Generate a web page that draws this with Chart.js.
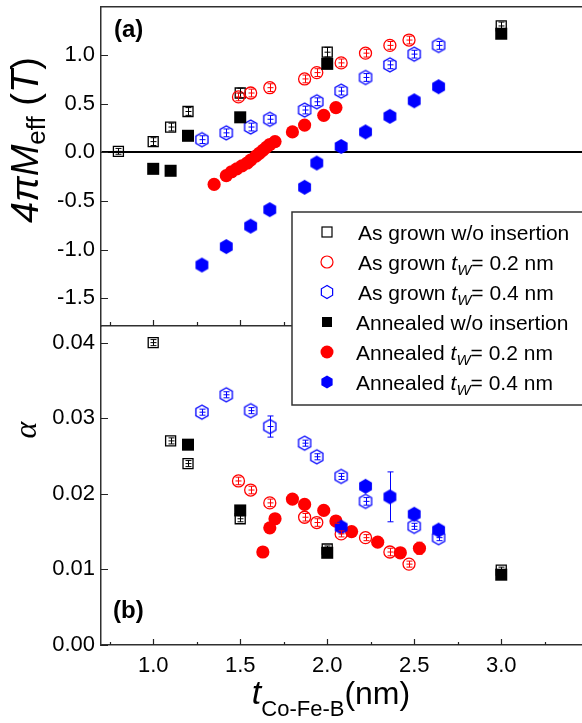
<!DOCTYPE html>
<html>
<head>
<meta charset="utf-8">
<script src="https://cdn.jsdelivr.net/npm/chart.js@4.4.0/dist/chart.umd.min.js"></script>
<style>
  body { margin: 0; background: #fff; }
  .wrap { position: relative; width: 582px; height: 723px; overflow: hidden; background: #fff; }
  canvas { position: absolute; left: 0; top: 0; }
</style>
</head>
<body>
<div class="wrap">
  <canvas id="chartTop" width="582" height="723"></canvas>
  <canvas id="chartBottom" width="582" height="723"></canvas>
</div>
<script>
// ---- ticks ----
const xTicks = [0.75, 1.0, 1.25, 1.5, 1.75, 2.0, 2.25, 2.5, 2.75, 3.0, 3.25];
const yTicksTop = [-1.5, -1.0, -0.5, 0.0, 0.5, 1.0];
const yTicksBottom = [0.0, 0.01, 0.02, 0.03, 0.04];

// ---- (a) 4piMeff (T) ----
const xAsW0 = [0.8, 1.0, 1.1, 1.2, 1.5, 2.0, 3.0];
const mAsW0 = [0.01, 0.11, 0.26, 0.42, 0.61, 1.03, 1.30];
const mAsW0Err = [0.03, 0.04, 0.04, 0.04, 0.05, 0.05, 0.04];

const xAnnW0 = [1.0, 1.1, 1.2, 1.5, 2.0, 3.0];
const mAnnW0 = [-0.17, -0.19, 0.17, 0.36, 0.91, 1.22];

const xAsW2 = [1.49, 1.56, 1.67, 1.87, 1.94, 2.08, 2.22, 2.36, 2.47];
const mAsW2 = [0.57, 0.61, 0.665, 0.755, 0.82, 0.92, 1.02, 1.10, 1.155];
const mAsW2Err = [0.04, 0.04, 0.04, 0.04, 0.04, 0.04, 0.04, 0.04, 0.04];

const xW4 = [1.28, 1.42, 1.56, 1.67, 1.87, 1.94, 2.08, 2.22, 2.36, 2.50, 2.64];
const mAsW4 = [0.13, 0.20, 0.26, 0.34, 0.435, 0.52, 0.63, 0.77, 0.90, 1.01, 1.10];
const mAsW4Err = [0.04, 0.04, 0.04, 0.04, 0.04, 0.04, 0.04, 0.04, 0.04, 0.04, 0.04];
const mAnnW4 = [-1.16, -0.97, -0.76, -0.59, -0.36, -0.11, 0.06, 0.21, 0.37, 0.53, 0.675];

const xAnnW2 = [1.35, 1.42, 1.45, 1.48, 1.51, 1.54, 1.56, 1.59, 1.61, 1.63, 1.65, 1.67, 1.70, 1.80, 1.87, 1.98, 2.05];
const mAnnW2 = [-0.33, -0.24, -0.20, -0.17, -0.14, -0.11, -0.08, -0.04, -0.01, 0.02, 0.05, 0.08, 0.11, 0.21, 0.28, 0.38, 0.46];

// ---- (b) alpha ----
const xaAsW0 = [1.0, 1.1, 1.2, 1.5, 2.0, 3.0];
const aAsW0 = [0.0400, 0.0270, 0.0240, 0.0167, 0.0127, 0.0099];
const aAsW0Err = [0.0004, 0.0004, 0.0004, 0.0004, 0.0004, 0.0004];

const xaAnnW0 = [1.2, 1.5, 2.0, 3.0];
const aAnnW0 = [0.0265, 0.0178, 0.0122, 0.0093];

const xaAsW2 = [1.49, 1.56, 1.67, 1.87, 1.94, 2.08, 2.22, 2.36, 2.47];
const aAsW2 = [0.0217, 0.0205, 0.0188, 0.0169, 0.0162, 0.0147, 0.0142, 0.0123, 0.0107];
const aAsW2Err = [0.0005, 0.0005, 0.0005, 0.0005, 0.0005, 0.0004, 0.0004, 0.0005, 0.0004];

const xaAnnW2 = [1.63, 1.67, 1.70, 1.80, 1.87, 1.98, 2.05, 2.14, 2.29, 2.42, 2.53];
const aAnnW2 = [0.0123, 0.0155, 0.0167, 0.0193, 0.0186, 0.0178, 0.0164, 0.0150, 0.0136, 0.0122, 0.0128];
const aAnnW2Err = [0.0003, 0.0003, 0.0003, 0.0003, 0.0003, 0.0003, 0.0003, 0.0003, 0.0003, 0.0003, 0.0008];

const xaAsW4 = [1.28, 1.42, 1.56, 1.67, 1.87, 1.94, 2.08, 2.22, 2.50, 2.64];
const aAsW4 = [0.0308, 0.0331, 0.0310, 0.0289, 0.0267, 0.0249, 0.0223, 0.0190, 0.0157, 0.0142];
const aAsW4Err = [0.0004, 0.0004, 0.0004, 0.0014, 0.0004, 0.0004, 0.0004, 0.0005, 0.0004, 0.0004];

const xaAnnW4 = [2.08, 2.22, 2.36, 2.50, 2.64];
const aAnnW4 = [0.0156, 0.0210, 0.0196, 0.0173, 0.0152];
const aAnnW4Err = [0.0003, 0.0003, 0.0033, 0.0003, 0.0003];

const legendLabels = [
  ['As grown w/o insertion'],
  ['As grown ', 't', 'W', '= 0.2 nm'],
  ['As grown ', 't', 'W', '= 0.4 nm'],
  ['Annealed w/o insertion'],
  ['Annealed ', 't', 'W', '= 0.2 nm'],
  ['Annealed ', 't', 'W', '= 0.4 nm'],
];

const FONT = "'Liberation Sans', Arial, sans-serif";
const RED = '#ff0000', BLUE = '#0000ff', BLACK = '#000000';
const X_MIN = 0.70, X_MAX = 3.464;

function hexPath(ctx, cx, cy, r) {
  ctx.beginPath();
  for (let k = 0; k < 6; k++) {
    const a = Math.PI / 2 + k * Math.PI / 3;
    const px = cx + r * Math.cos(a), py = cy - r * Math.sin(a);
    if (k) ctx.lineTo(px, py); else ctx.moveTo(px, py);
  }
  ctx.closePath();
}
function hexImage(r, filled, color) {
  const c = document.createElement('canvas');
  const s = Math.ceil(2 * r + 4);
  c.width = s; c.height = s;
  const g = c.getContext('2d');
  hexPath(g, s / 2, s / 2, r);
  if (filled) { g.fillStyle = color; g.fill(); }
  else { g.strokeStyle = color; g.lineWidth = 1.3; g.stroke(); }
  return c;
}
const hexOpen = hexImage(7, false, BLUE);
const hexFilled = hexImage(7.4, true, BLUE);

const pts = (xs, ys) => xs.map((x, i) => ({ x: x, y: ys[i] }));

function ds(label, xs, ys, errs, style, radius, color, filled, order) {
  return {
    label: label,
    data: pts(xs, ys),
    errors: errs,
    pointStyle: style,
    pointRadius: radius,
    pointBorderColor: color,
    pointBackgroundColor: filled ? color : 'rgba(0,0,0,0)',
    pointBorderWidth: filled ? 0 : 1.3,
    borderColor: color,
    showLine: false,
    order: order,
  };
}

// inward ticks, drawn from the scales
function drawInwardTicks(chart, yTicks, majorLen, minorLen) {
  const ctx = chart.ctx, xs = chart.scales.x, ys = chart.scales.y;
  const area = chart.chartArea;
  ctx.save();
  ctx.strokeStyle = '#222';
  ctx.lineWidth = 1.2;
  ctx.beginPath();
  yTicks.forEach(v => {
    const py = Math.round(ys.getPixelForValue(v)) + 0.5;
    ctx.moveTo(area.left, py); ctx.lineTo(area.left + 7, py);
  });
  xTicks.forEach(v => {
    const px = Math.round(xs.getPixelForValue(v)) + 0.5;
    const major = Math.abs(v * 2 - Math.round(v * 2)) < 1e-6;
    ctx.moveTo(px, area.bottom); ctx.lineTo(px, area.bottom - (major ? majorLen : minorLen));
  });
  ctx.stroke();
  ctx.restore();
}

const errorBars = {
  id: 'errorBars',
  afterDatasetsDraw(chart) {
    const ctx = chart.ctx, xs = chart.scales.x, ys = chart.scales.y;
    const area = chart.chartArea;
    ctx.save();
    ctx.beginPath();
    ctx.rect(area.left, area.top, area.right - area.left, area.bottom - area.top);
    ctx.clip();
    ctx.lineWidth = 1;
    chart.data.datasets.forEach(d => {
      if (!d.errors) return;
      ctx.strokeStyle = d.borderColor;
      ctx.beginPath();
      d.data.forEach((p, i) => {
        const e = d.errors[i] || 0;
        const px = Math.round(xs.getPixelForValue(p.x)) + 0.5;
        const y0 = ys.getPixelForValue(p.y);
        const y1 = ys.getPixelForValue(p.y - e), y2 = ys.getPixelForValue(p.y + e);
        ctx.moveTo(px, y1); ctx.lineTo(px, y2);
        ctx.moveTo(px - 3, y1); ctx.lineTo(px + 3, y1);
        ctx.moveTo(px - 3, y2); ctx.lineTo(px + 3, y2);
        ctx.moveTo(px - 3, y0); ctx.lineTo(px + 3, y0);
      });
      ctx.stroke();
    });
    ctx.restore();
  }
};

function richWidth(ctx, parts) {
  let w = 0;
  parts.forEach(p => { ctx.font = p.font; w += ctx.measureText(p.t).width; });
  return w;
}
function drawRich(ctx, parts, x, y) {
  parts.forEach(p => {
    ctx.font = p.font;
    ctx.fillText(p.t, x, y + (p.dy || 0));
    x += ctx.measureText(p.t).width;
  });
}

const topDecor = {
  id: 'topDecor',
  afterDraw(chart) {
    const ctx = chart.ctx;
    drawInwardTicks(chart, yTicksTop, 6, 4);
    ctx.save();
    ctx.fillStyle = '#000';
    ctx.textBaseline = 'alphabetic';
    ctx.font = 'bold 24px ' + FONT;
    ctx.fillText('(a)', 114, 37);
    // y title
    const parts = [
      { t: '4\u03c0M', font: 'italic 38px ' + FONT },
      { t: 'eff', font: '26px ' + FONT, dy: 7 },
      { t: ' (', font: '38px ' + FONT },
      { t: 'T', font: 'italic 38px ' + FONT },
      { t: ')', font: '38px ' + FONT },
    ];
    const w = richWidth(ctx, parts);
    ctx.translate(38, 140 + w / 2);
    ctx.rotate(-Math.PI / 2);
    drawRich(ctx, parts, 0, 0);
    ctx.restore();
  }
};

function legendMarker(ctx, i, cx, cy) {
  ctx.save();
  ctx.lineWidth = 1.2;
  if (i === 0) { ctx.strokeStyle = BLACK; ctx.strokeRect(cx - 5, cy - 5, 10, 10); }
  if (i === 1) { ctx.strokeStyle = RED; ctx.beginPath(); ctx.arc(cx, cy, 6, 0, Math.PI * 2); ctx.stroke(); }
  if (i === 2) { ctx.strokeStyle = BLUE; hexPath(ctx, cx, cy, 6.5); ctx.stroke(); }
  if (i === 3) { ctx.fillStyle = BLACK; ctx.fillRect(cx - 5, cy - 5, 10, 10); }
  if (i === 4) { ctx.fillStyle = RED; ctx.beginPath(); ctx.arc(cx, cy, 6.5, 0, Math.PI * 2); ctx.fill(); }
  if (i === 5) { ctx.fillStyle = BLUE; hexPath(ctx, cx, cy, 6.5); ctx.fill(); }
  ctx.restore();
}

const bottomDecor = {
  id: 'bottomDecor',
  afterDraw(chart) {
    const ctx = chart.ctx;
    drawInwardTicks(chart, yTicksBottom, 6, 3);
    ctx.save();
    ctx.fillStyle = '#000';
    ctx.textBaseline = 'alphabetic';
    ctx.font = 'bold 24px ' + FONT;
    ctx.fillText('(b)', 113, 618);

    // alpha title
    ctx.save();
    ctx.font = "italic 32px 'Liberation Serif', 'DejaVu Serif', serif";
    const aw = ctx.measureText('\u03b1').width;
    ctx.translate(36, 430 + aw / 2);
    ctx.rotate(-Math.PI / 2);
    ctx.fillText('\u03b1', 0, 0);
    ctx.restore();

    // x title
    const xparts = [
      { t: 't', font: 'italic 34px ' + FONT },
      { t: 'Co-Fe-B', font: '22px ' + FONT, dy: 12 },
      { t: '(nm)', font: '32px ' + FONT },
    ];
    const xw = richWidth(ctx, xparts);
    drawRich(ctx, xparts, 331 - xw / 2, 704);

    // legend
    ctx.fillStyle = '#fff';
    ctx.fillRect(292, 212, 300, 193);
    ctx.strokeStyle = '#333';
    ctx.lineWidth = 1.5;
    ctx.strokeRect(292, 212, 300, 193);
    legendLabels.forEach((lab, i) => {
      const cy = 232 + i * 30;
      legendMarker(ctx, i, 327, cy);
      ctx.fillStyle = '#000';
      let parts;
      if (lab.length === 1) parts = [{ t: lab[0], font: '21px ' + FONT }];
      else parts = [
        { t: lab[0], font: '21px ' + FONT },
        { t: lab[1], font: 'italic 21px ' + FONT },
        { t: lab[2], font: 'italic 15px ' + FONT, dy: 5 },
        { t: lab[3], font: '21px ' + FONT },
      ];
      drawRich(ctx, parts, i < 3 ? 358 : 356, cy + 8);
    });
    ctx.restore();
  }
};

const setXTicks = s => { s.ticks = xTicks.map(v => ({ value: v })); };
const xLabel = v => (Math.abs(v * 2 - Math.round(v * 2)) < 1e-6 ? v.toFixed(1) : '');
const borderOpt = { display: true, color: '#303030', width: 1.5 };
const fitX = h => s => { s.height = h; s.paddingLeft = 0; s.paddingRight = 0; };
const fitY = s => { s.width = 101; s.paddingTop = 0; s.paddingBottom = 0; };

// ---- top chart ----
new Chart(document.getElementById('chartTop'), {
  type: 'scatter',
  data: {
    datasets: [
      ds('As grown w/o insertion', xAsW0, mAsW0, mAsW0Err, 'rect', 7.07, BLACK, false, 6),
      ds('As grown tW = 0.2 nm', xAsW2, mAsW2, mAsW2Err, 'circle', 6, RED, false, 5),
      ds('As grown tW = 0.4 nm', xW4, mAsW4, mAsW4Err, hexOpen, 7, BLUE, false, 4),
      ds('Annealed w/o insertion', xAnnW0, mAnnW0, null, 'rect', 8.5, BLACK, true, 3),
      ds('Annealed tW = 0.2 nm', xAnnW2, mAnnW2, null, 'circle', 6.6, RED, true, 2),
      ds('Annealed tW = 0.4 nm', xW4, mAnnW4, null, hexFilled, 7.4, BLUE, true, 1),
    ]
  },
  options: {
    responsive: false,
    animation: false,
    events: [],
    layout: { padding: 0, autoPadding: false },
    plugins: { legend: { display: false }, tooltip: { enabled: false } },
    scales: {
      x: {
        type: 'linear', position: 'bottom', min: X_MIN, max: X_MAX,
        afterBuildTicks: setXTicks,
        afterFit: fitX(723 - 326),
        ticks: { display: false },
        grid: { display: false },
        border: borderOpt,
      },
      xTop: {
        type: 'linear', position: 'top', min: X_MIN, max: X_MAX,
        afterFit: fitX(7),
        ticks: { display: false },
        grid: { display: false },
        border: borderOpt,
      },
      y: {
        type: 'linear', min: -1.787, max: 1.495,
        afterBuildTicks: s => { s.ticks = yTicksTop.map(v => ({ value: v })); },
        afterFit: fitY,
        ticks: {
          padding: 6, color: '#000', font: { family: FONT, size: 22 },
          callback: v => v.toFixed(1),
        },
        grid: {
          drawTicks: false,
          color: c => (c.tick && Math.abs(c.tick.value) < 1e-9 ? '#000' : 'rgba(0,0,0,0)'),
          lineWidth: c => (c.tick && Math.abs(c.tick.value) < 1e-9 ? 2 : 1),
        },
        border: borderOpt,
      }
    }
  },
  plugins: [errorBars, topDecor]
});

// ---- bottom chart ----
new Chart(document.getElementById('chartBottom'), {
  type: 'scatter',
  data: {
    datasets: [
      ds('As grown w/o insertion', xaAsW0, aAsW0, aAsW0Err, 'rect', 7.07, BLACK, false, 6),
      ds('As grown tW = 0.2 nm', xaAsW2, aAsW2, aAsW2Err, 'circle', 6, RED, false, 5),
      ds('As grown tW = 0.4 nm', xaAsW4, aAsW4, aAsW4Err, hexOpen, 7, BLUE, false, 4),
      ds('Annealed w/o insertion', xaAnnW0, aAnnW0, null, 'rect', 8.5, BLACK, true, 3),
      ds('Annealed tW = 0.2 nm', xaAnnW2, aAnnW2, aAnnW2Err, 'circle', 6.6, RED, true, 2),
      ds('Annealed tW = 0.4 nm', xaAnnW4, aAnnW4, aAnnW4Err, hexFilled, 7.4, BLUE, true, 1),
    ]
  },
  options: {
    responsive: false,
    animation: false,
    events: [],
    layout: { padding: { top: 326, left: 0, right: 0, bottom: 0 }, autoPadding: false },
    plugins: { legend: { display: false }, tooltip: { enabled: false } },
    scales: {
      x: {
        type: 'linear', position: 'bottom', min: X_MIN, max: X_MAX,
        afterBuildTicks: setXTicks,
        afterFit: fitX(723 - 645),
        ticks: {
          autoSkip: false, maxRotation: 0, minRotation: 0, padding: 8,
          color: '#000', font: { family: FONT, size: 22 },
          callback: xLabel,
        },
        grid: { display: false, drawTicks: false },
        border: borderOpt,
      },
      y: {
        type: 'linear', min: 0, max: 0.0422,
        afterBuildTicks: s => { s.ticks = yTicksBottom.map(v => ({ value: v })); },
        afterFit: fitY,
        ticks: {
          padding: 6, color: '#000', font: { family: FONT, size: 22 },
          callback: v => v.toFixed(2),
        },
        grid: { display: false, drawTicks: false },
        border: borderOpt,
      }
    }
  },
  plugins: [errorBars, bottomDecor]
});
</script>
</body>
</html>
